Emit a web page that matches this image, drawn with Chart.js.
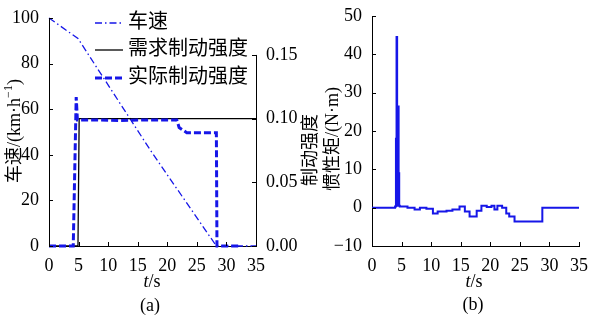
<!DOCTYPE html>
<html>
<head>
<meta charset="utf-8">
<script src="https://cdn.jsdelivr.net/npm/chart.js@4/dist/chart.umd.min.js"></script>
<style>
  html, body { margin: 0; padding: 0; background: #fff; }
  #wrap { position: relative; width: 589px; height: 320px; overflow: hidden; }
  #c1 { position: absolute; left: 0; top: 0; width: 320px; height: 320px; }
  #c2 { position: absolute; left: 320px; top: 0; width: 269px; height: 320px; }
</style>
</head>
<body>
<div id="wrap">
  <canvas id="c1" width="320" height="320"></canvas>
  <canvas id="c2" width="269" height="320"></canvas>
</div>
<script>
// ---- data ----
// (a) speed / braking strength
const T_TICKS = [0, 5, 10, 15, 20, 25, 30, 35];
const SPEED_TICKS = [0, 20, 40, 60, 80, 100];
const BRAKE_TICKS = [0, 0.05, 0.10, 0.15];

const SPEED_T = [0, 4.9, 17.4, 28.3, 35];
const SPEED_V = [100, 91, 41, 0, 0];

const DEMAND_T = [0, 4.9, 5.1, 35];
const DEMAND_Z = [0, 0, 0.1, 0.1];

const ACTUAL_T = [0, 4.1, 4.6, 4.8, 8, 12, 16, 21.6, 22, 23.3, 28.3, 28.4, 32];
const ACTUAL_Z = [0, 0, 0.117, 0.099, 0.099, 0.0985, 0.099, 0.099, 0.093, 0.089, 0.089, 0, 0];

const LEGEND_LABELS = ['车速', '需求制动强度', '实际制动强度'];

// (b) inertia torque
const TORQUE_TICKS = [-10, 0, 10, 20, 30, 40, 50];
const TORQUE_T = [0, 3.9, 4.05, 4.15, 4.25, 4.4, 4.5, 4.6, 4.7, 6, 7.2, 8.1, 9.2, 10.3, 11.1, 12.6,
  13.6, 14.8, 15.7, 16.5, 17.7, 18.5, 19.4, 20.2, 20.7, 21.2, 22, 22.7, 23.2, 24.1, 28.8, 35];
const TORQUE_V = [0, 0.3, 18, 44.5, 0.5, 26.4, 9, 0.5, 0.3, 0, -0.5, 0, -0.3, -1.5, -1, -0.8,
  -0.5, 0.3, -1, -2.3, -0.8, 0.5, 0.2, 0.5, -0.5, 0.5, 0, -1.5, -2.3, -3.6, 0, 0];

// ---- styling ----
const FONT = "'Liberation Serif', 'Noto Sans CJK SC', serif";
const BLUE = '#1616e8';
const tickFont = { family: FONT, size: 18 };
const pts = (xs, ys) => xs.map((x, i) => ({ x, y: ys[i] }));
const fixTicks = arr => s => { s.ticks = arr.map(v => ({ value: v })); };

// text runs, optionally rotated (CCW), centered at cx,cy
function drawRuns(ctx, runs, cx, cy, rotate) {
  ctx.save();
  let total = 0;
  runs.forEach(r => { ctx.font = r.font; r.w = ctx.measureText(r.text).width; total += r.w; });
  ctx.translate(cx, cy);
  if (rotate) ctx.rotate(-Math.PI / 2);
  ctx.textBaseline = 'middle'; ctx.textAlign = 'left'; ctx.fillStyle = '#000';
  let x = -total / 2;
  runs.forEach(r => { ctx.font = r.font; ctx.fillText(r.text, x, r.dy || 0); x += r.w; });
  ctx.restore();
}

// MATLAB style inward ticks
function inwardTicks(ctx, scale, side, len) {
  ctx.save();
  ctx.strokeStyle = '#000'; ctx.lineWidth = 1;
  scale.ticks.forEach(t => {
    const p = Math.round(scale.getPixelForValue(t.value)) + 0.5;
    ctx.beginPath();
    if (side === 'bottom') { ctx.moveTo(p, scale.top); ctx.lineTo(p, scale.top - len); }
    if (side === 'left') { ctx.moveTo(scale.right, p); ctx.lineTo(scale.right + len, p); }
    if (side === 'right') { ctx.moveTo(scale.left, p); ctx.lineTo(scale.left - len, p); }
    ctx.stroke();
  });
  ctx.restore();
}

const xScale = () => ({
  type: 'linear', min: 0, max: 35,
  afterBuildTicks: fixTicks(T_TICKS),
  afterFit: s => { s.height = 74; },
  grid: { display: false },
  border: { display: true, color: '#000', width: 1 },
  ticks: { color: '#000', font: tickFont, padding: 1, maxRotation: 0, autoSkip: false }
});

// ---- chart (a) ----
const panelA = {
  id: 'panelA',
  afterDraw(chart) {
    const { ctx, chartArea: a, scales } = chart;
    inwardTicks(ctx, scales.x, 'bottom', 4);
    inwardTicks(ctx, scales.y, 'left', 4);
    inwardTicks(ctx, scales.y2, 'right', 4);
    // right axis spans 0 .. 0.15 only
    ctx.save();
    ctx.strokeStyle = '#000'; ctx.lineWidth = 1;
    ctx.beginPath();
    ctx.moveTo(a.right + 0.5, scales.y2.getPixelForValue(0.15));
    ctx.lineTo(a.right + 0.5, a.bottom);
    ctx.stroke();
    ctx.restore();

    // legend
    const rows = [
      { dash: [7, 3, 1.5, 3], color: BLUE, w: 1.3 },
      { dash: [], color: '#000', w: 1.3 },
      { dash: [7, 3], color: BLUE, w: 3 }
    ];
    const rowY = [23, 50, 78];
    ctx.save();
    rows.forEach((r, i) => {
      ctx.strokeStyle = r.color; ctx.lineWidth = r.w; ctx.setLineDash(r.dash);
      ctx.beginPath(); ctx.moveTo(95, rowY[i]); ctx.lineTo(123, rowY[i]); ctx.stroke();
      ctx.setLineDash([]);
      ctx.fillStyle = '#000'; ctx.font = '20px ' + FONT;
      ctx.textBaseline = 'middle'; ctx.textAlign = 'left';
      ctx.fillText(LEGEND_LABELS[i], 128, rowY[i]);
    });
    ctx.restore();

    // axis titles
    const f = '18px ' + FONT;
    drawRuns(ctx, [{ text: '车速/(km·h', font: f }, { text: '−1', font: '12px ' + FONT, dy: -6 },
      { text: ')', font: f }], 15, 131, true);
    drawRuns(ctx, [{ text: '制动强度', font: '18px ' + FONT }], 311, 150, true);
    drawRuns(ctx, [{ text: 't', font: 'italic 18px ' + FONT }, { text: '/s', font: f }], 152, 282);
    drawRuns(ctx, [{ text: '(a)', font: f }], 150, 306);
  }
};

new Chart(document.getElementById('c1'), {
  type: 'line',
  data: {
    datasets: [
      { label: LEGEND_LABELS[2], data: pts(ACTUAL_T, ACTUAL_Z), yAxisID: 'y2',
        borderColor: BLUE, borderWidth: 3, borderDash: [7, 3], pointRadius: 0, fill: false, tension: 0 },
      { label: LEGEND_LABELS[1], data: pts(DEMAND_T, DEMAND_Z), yAxisID: 'y2',
        borderColor: '#000', borderWidth: 1.3, pointRadius: 0, fill: false, tension: 0 },
      { label: LEGEND_LABELS[0], data: pts(SPEED_T, SPEED_V), yAxisID: 'y',
        borderColor: BLUE, borderWidth: 1.3, borderDash: [7, 3, 1.5, 3], pointRadius: 0, fill: false, tension: 0 }
    ]
  },
  options: {
    responsive: false, animation: false, clip: false,
    layout: { padding: { top: 18, left: 0, right: 0, bottom: 0 } },
    plugins: { legend: { display: false }, tooltip: { enabled: false } },
    scales: {
      x: xScale(),
      y: {
        position: 'left', min: 0, max: 100,
        afterBuildTicks: fixTicks(SPEED_TICKS),
        afterFit: s => { s.width = 49; },
        grid: { display: false },
        border: { display: true, color: '#000', width: 1 },
        ticks: { color: '#000', font: tickFont, padding: 2 }
      },
      y2: {
        position: 'right', min: 0, max: 0.179,
        afterBuildTicks: fixTicks(BRAKE_TICKS),
        afterFit: s => { s.width = 64; },
        grid: { display: false },
        border: { display: false },
        ticks: { color: '#000', font: tickFont, padding: 2, callback: v => v.toFixed(2) }
      }
    }
  },
  plugins: [panelA]
});

// ---- chart (b) ----
const panelB = {
  id: 'panelB',
  afterDraw(chart) {
    const { ctx, scales } = chart;
    inwardTicks(ctx, scales.x, 'bottom', 4);
    inwardTicks(ctx, scales.y, 'left', 4);
    const f = '18px ' + FONT;
    drawRuns(ctx, [{ text: '惯性矩/(N·m)', font: f }], 13, 139, true);
    drawRuns(ctx, [{ text: 't', font: 'italic 18px ' + FONT }, { text: '/s', font: f }], 154, 282);
    drawRuns(ctx, [{ text: '(b)', font: f }], 153, 305);
  }
};

new Chart(document.getElementById('c2'), {
  type: 'line',
  data: {
    datasets: [
      { label: '惯性矩', data: pts(TORQUE_T, TORQUE_V), stepped: true,
        borderColor: BLUE, borderWidth: 2, pointRadius: 0, fill: false }
    ]
  },
  options: {
    responsive: false, animation: false, clip: false,
    layout: { padding: { top: 16, left: 0, right: 9, bottom: 0 } },
    plugins: { legend: { display: false }, tooltip: { enabled: false } },
    scales: {
      x: xScale(),
      y: {
        position: 'left', min: -10, max: 50,
        afterBuildTicks: fixTicks(TORQUE_TICKS),
        afterFit: s => { s.width = 52; },
        grid: { display: false },
        border: { display: true, color: '#000', width: 1 },
        ticks: { color: '#000', font: tickFont, padding: 2, callback: v => String(v).replace('-', '−') }
      }
    }
  },
  plugins: [panelB]
});
</script>
</body>
</html>
